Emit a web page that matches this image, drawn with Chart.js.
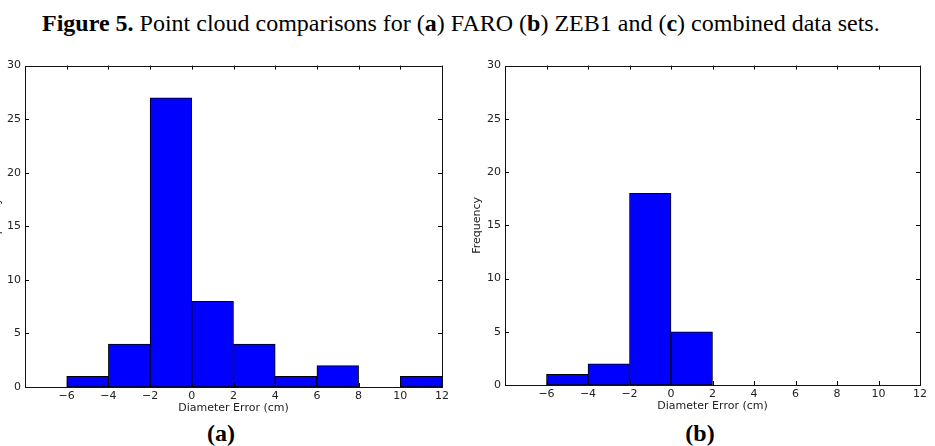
<!DOCTYPE html>
<html>
<head>
<meta charset="utf-8">
<script src="https://cdn.jsdelivr.net/npm/chart.js@4/dist/chart.umd.min.js"></script>
<style>
  html, body { margin: 0; padding: 0; background: #fff; }
  body { width: 935px; height: 446px; position: relative; overflow: hidden; }
  .title { position: absolute; top: 11px; left: 42px; line-height: 24px;
           font-family: "Liberation Serif", "Times New Roman", serif; font-size: 24px; color: #000; white-space: nowrap; }
  .cap { position: absolute; top: 421px; width: 60px; text-align: center; line-height: 24px;
         font-family: "Liberation Serif", "Times New Roman", serif; font-size: 24px; font-weight: bold; color: #000; }
  .box { position: absolute; top: 55px; width: 475px; }
</style>
</head>
<body>
<div class="title"><b>Figure 5.</b> Point cloud comparisons for (<b>a</b>) FARO (<b>b</b>) ZEB1 and (<b>c</b>) combined data sets.</div>

<div class="box" style="left:-20px; height:362px;"><canvas id="chartA"></canvas></div>
<div class="box" style="left:460px; height:360px;"><canvas id="chartB"></canvas></div>

<div class="cap" style="left:191px;">(a)</div>
<div class="cap" style="left:670px;">(b)</div>

<script>
// histogram bins (centre of each 2 cm bin)
const binCentres = [-5, -3, -1, 1, 3, 5, 7, 9, 11];
const faroCounts = [1, 4, 27, 8, 4, 1, 2, 0, 1];
const zebCounts  = [1, 2, 18, 5, 0, 0, 0, 0, 0];
const xTicks = [-6, -4, -2, 0, 2, 4, 6, 8, 10, 12];
const yTicks = [0, 5, 10, 15, 20, 25, 30];

// box round the plot + inward ticks, matplotlib style
const framePlugin = {
    id: 'frame',
    afterDraw(chart) {
        const ctx = chart.ctx, a = chart.chartArea;
        const xs = chart.scales.x, ys = chart.scales.y;
        ctx.save();
        ctx.strokeStyle = '#000';
        ctx.lineWidth = 1;
        ctx.beginPath();
        xTicks.forEach(v => {
            const px = Math.round(xs.getPixelForValue(v)) + 0.5;
            ctx.moveTo(px, a.bottom); ctx.lineTo(px, a.bottom - 4);
            ctx.moveTo(px, a.top); ctx.lineTo(px, a.top + 4);
        });
        yTicks.forEach(v => {
            const py = Math.round(ys.getPixelForValue(v)) + 0.5;
            ctx.moveTo(a.left, py); ctx.lineTo(a.left + 4, py);
            ctx.moveTo(a.right, py); ctx.lineTo(a.right - 4, py);
        });
        ctx.stroke();
        ctx.strokeStyle = '#111';
        ctx.strokeRect(Math.round(a.left) + 0.5, Math.round(a.top) + 0.5,
                       Math.round(a.right - a.left), Math.round(a.bottom - a.top));
        ctx.restore();
    }
};

const minus = v => String(v).replace('-', '\u2212');

function makeHist(id, counts, padRight) {
    const ctx = document.getElementById(id).getContext('2d');
    return new Chart(ctx, {
        type: 'bar',
        data: {
            datasets: [{
                data: binCentres.map((c, i) => ({ x: c, y: counts[i] })),
                backgroundColor: '#0000ff',
                borderColor: '#000',
                borderWidth: 1,
                borderSkipped: false,
                barPercentage: 1,
                categoryPercentage: 1
            }]
        },
        options: {
            responsive: true,
            maintainAspectRatio: false,
            animation: false,
            layout: { padding: { top: 8, right: padRight, left: 0, bottom: 0 } },
            plugins: { legend: { display: false }, tooltip: { enabled: false } },
            scales: {
                x: {
                    type: 'linear',
                    min: -8, max: 12,
                    offset: false,
                    grid: { display: false, drawTicks: false },
                    border: { display: false },
                    afterBuildTicks: s => { s.ticks = xTicks.map(v => ({ value: v })); },
                    afterFit: s => { s.height = 30; },
                    ticks: {
                        padding: 3,
                        color: '#222',
                        font: { family: 'DejaVu Sans', size: 11 },
                        callback: v => minus(v)
                    },
                    title: {
                        display: true,
                        text: 'Diameter Error (cm)',
                        color: '#222',
                        font: { family: 'DejaVu Sans', size: 11 },
                        padding: { top: 0, bottom: 2 }
                    }
                },
                y: {
                    min: 0, max: 30,
                    grid: { display: false, drawTicks: false },
                    border: { display: false },
                    afterBuildTicks: s => { s.ticks = yTicks.map(v => ({ value: v })); },
                    afterFit: s => { s.width = 45; },
                    ticks: {
                        padding: 4,
                        color: '#222',
                        font: { family: 'DejaVu Sans', size: 11 }
                    },
                    title: {
                        display: true,
                        text: 'Frequency',
                        color: '#222',
                        font: { family: 'DejaVu Sans', size: 11 },
                        padding: { top: 11, bottom: 0 }
                    }
                }
            }
        },
        plugins: [framePlugin]
    });
}

makeHist('chartA', faroCounts, 13);
makeHist('chartB', zebCounts, 15);
</script>
</body>
</html>
